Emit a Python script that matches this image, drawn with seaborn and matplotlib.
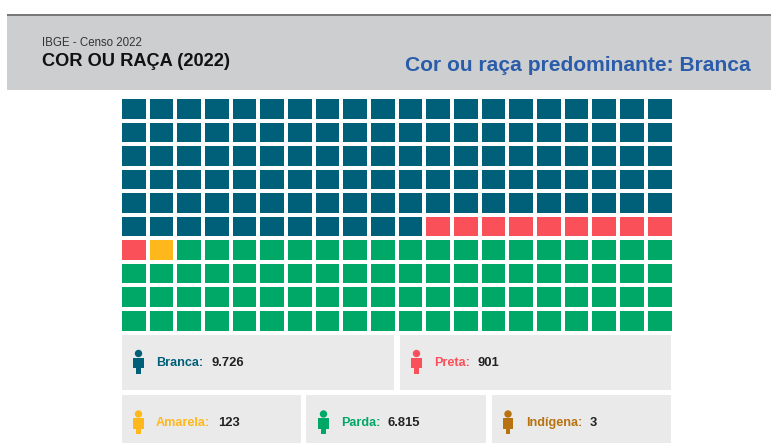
import numpy as np
import matplotlib
matplotlib.use("Agg")
import matplotlib.pyplot as plt
from matplotlib.colors import ListedColormap
from matplotlib.patches import Rectangle, Circle
import seaborn as sns

# --- data -----------------------------------------------------------------
categories = ["Branca", "Preta", "Amarela", "Parda", "Indígena"]
populacao = ["9.726", "901", "123", "6.815", "3"]
cells_per_category = [111, 10, 1, 78, 0]
colors = ["#00607A", "#F9505A", "#FFB81C", "#00A868", "#B8720F"]
n_rows = 10
n_cols = 20
header_small = "IBGE - Censo 2022"
header_big = "COR OU RAÇA (2022)"
header_right = "Cor ou raça predominante: Branca"

W, H = 771, 443
sns.set_theme(style="white")
plt.rcParams["font.family"] = ["Liberation Sans", "DejaVu Sans"]
fig = plt.figure(figsize=(W / 100, H / 100), dpi=100, facecolor="white")

# decoration layer in pixel units
bg = fig.add_axes([0, 0, 1, 1], zorder=0)
bg.set_xlim(0, W)
bg.set_ylim(H, 0)
bg.axis("off")

bg.add_patch(Rectangle((7, 15), W - 7, 74.5, fc="#CDCED0", ec="none"))
bg.add_patch(Rectangle((7, 13.5), W - 7, 2.5, fc="#77787A", ec="none"))
bg.text(42, 43, header_small, fontsize=8.3, color="#333333", va="center", ha="left")
bg.text(42, 61.5, header_big, fontsize=13.15, fontweight="bold", color="#111111", va="center", ha="left")
bg.text(751, 65, header_right, fontsize=15.08, fontweight="bold", color="#2A5CAA", va="center", ha="right")

# waffle grid
codes = np.repeat(np.arange(len(categories)), cells_per_category).reshape(n_rows, n_cols)
x0, x1, y0, y1 = 120.0, 673.5, 97.0, 332.5
ax = fig.add_axes([x0 / W, 1 - y1 / H, (x1 - x0) / W, (y1 - y0) / H], zorder=1)
sns.heatmap(codes, ax=ax, cmap=ListedColormap(colors), vmin=-0.5, vmax=len(colors) - 0.5,
            cbar=False, linewidths=2.6, linecolor="white", square=False,
            xticklabels=False, yticklabels=False)

# legend cards: (left, right, top, bottom), icon x, label x, value x
cards = [(122, 393.5, 335, 389.5), (399.5, 671, 335, 389.5),
         (122, 300.5, 395, 443), (306, 485.5, 395, 443), (491.5, 671, 395, 443)]
icon_x = [138.5, 416.5, 138.5, 323.5, 508]
label_x = [156, 434, 156, 341, 526]
value_x = [211, 477.5, 218.5, 388, 590]

for i, cat in enumerate(categories):
    l, r, t, b = cards[i]
    bg.add_patch(Rectangle((l, t), r - l, b - t, fc="#EAEAEA", ec="none"))
    c = colors[i]
    yc = 361.5 if i < 2 else 422
    ix = icon_x[i]
    bg.add_patch(Circle((ix, yc - 8), 3.7, fc=c, ec="none"))
    bg.add_patch(Rectangle((ix - 5.4, yc - 4), 10.8, 10.5, fc=c, ec="none"))
    bg.add_patch(Rectangle((ix - 2.4, yc + 6), 4.8, 6, fc=c, ec="none"))
    bg.text(label_x[i], yc + 1, cat + ":", fontsize=9.1, fontweight="bold", color=c, va="center", ha="left")
    bg.text(value_x[i], yc + 1, populacao[i], fontsize=9.4, fontweight="bold", color="#222222", va="center", ha="left")

fig.savefig("out.png", dpi=100, facecolor="white")
